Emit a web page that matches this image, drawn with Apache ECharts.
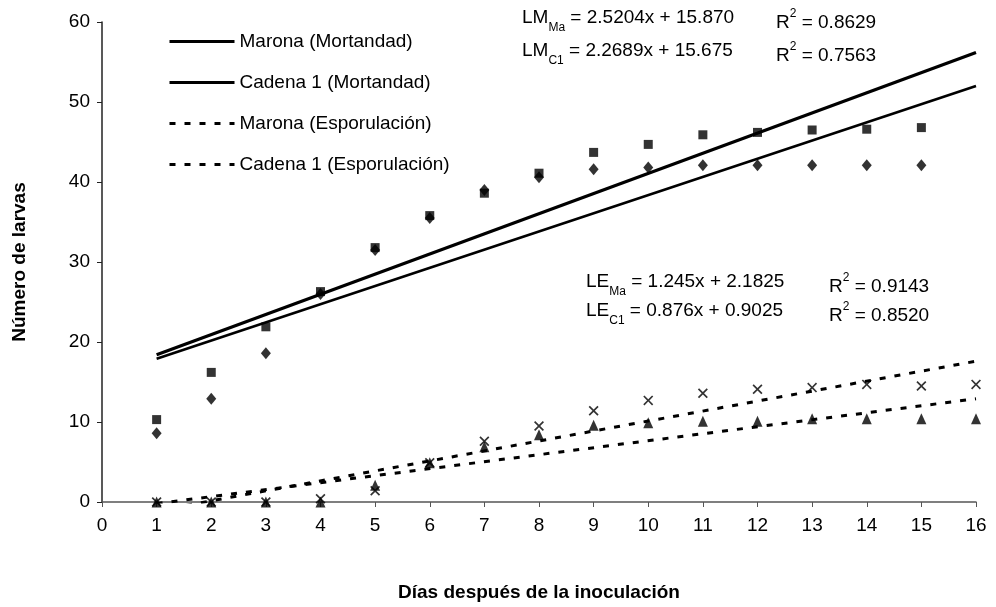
<!DOCTYPE html>
<html>
<head>
<meta charset="utf-8">
<script src="https://cdn.jsdelivr.net/npm/echarts@6/dist/echarts.min.js"></script>
<style>
html,body{margin:0;padding:0;background:#fff;}
#chart{width:996px;height:607px;}
</style>
</head>
<body>
<div id="chart"></div>
<script>
// Days
const daysMort = [1,2,3,4,5,6,7,8,9,10,11,12,13,14,15];
const daysEsp = [1,2,3,4,5,6,7,8,9,10,11,12,13,14,15,16];
// Mortandad (observed)
const maronaMort = [10.3,16.2,21.9,26.3,31.8,35.8,38.6,41.1,43.7,44.7,45.9,46.2,46.5,46.6,46.8];
const cadenaMort = [8.6,12.9,18.6,26.0,31.5,35.5,39.0,40.6,41.6,41.8,42.1,42.1,42.1,42.1,42.1];
// Esporulación (observed)
const maronaEsp = [0,0,0,0.4,1.4,4.9,7.6,9.5,11.4,12.7,13.6,14.1,14.3,14.7,14.5,14.7];
const cadenaEsp = [0,0,0,0,2.1,4.9,6.9,8.4,9.6,9.9,10.1,10.1,10.4,10.4,10.4,10.4];
// Trend line endpoints [x, y]
const trendMaronaMort = [[1,18.4],[16,56.2]];
const trendCadenaMort = [[1,17.9],[16,52.0]];
const trendMaronaEsp = [[1,-1.1],[16,17.6]];
const trendCadenaEsp = [[1,-0.2],[16,12.9]];
// Legend names
const seriesNames = ['Marona (Mortandad)','Cadena 1 (Mortandad)','Marona (Esporulación)','Cadena 1 (Esporulación)'];
// Axis ticks
const xTicks = {min:0, max:16, interval:1};
const yTicks = {min:0, max:60, interval:10};

const FONT = 'Liberation Sans, Arial, sans-serif';
const FS = 19;
const pair = (xs, ys) => xs.map((x,i)=>[x, ys[i]]);
const xPath = 'path://M0,1.2L1.2,0L5,3.8L8.8,0L10,1.2L6.2,5L10,8.8L8.8,10L5,6.2L1.2,10L0,8.8L3.8,5Z';

const chart = echarts.init(document.getElementById('chart'), null, {renderer:'canvas'});

const rich = {
  a:{fontSize:FS, fontFamily:FONT, color:'#000', lineHeight:24, verticalAlign:'middle'},
  s:{fontSize:12, fontFamily:FONT, color:'#000', lineHeight:24, verticalAlign:'bottom', padding:[0,0,-4,0]},
  p:{fontSize:12, fontFamily:FONT, color:'#000', lineHeight:24, verticalAlign:'top', padding:[-3,0,0,0]}
};
function eqText(x, y, text){
  return {type:'text', left:x, top:y, style:{text:text, rich:rich, fill:'#000'}};
}

chart.setOption({
  animation:false,
  backgroundColor:'#fff',
  textStyle:{fontFamily:FONT},
  grid:{left:102, right:20, top:22, bottom:105, containLabel:false},
  legend:{
    data:seriesNames,
    orient:'vertical',
    left:163, top:27,
    itemWidth:65, itemHeight:14, itemGap:22,
    itemStyle:{opacity:0},
    lineStyle:{width:3},
    textStyle:{fontSize:FS, fontFamily:FONT, color:'#000'}
  },
  xAxis:{
    type:'value', min:xTicks.min, max:xTicks.max, interval:xTicks.interval,
    name:'Días después de la inoculación', nameLocation:'middle', nameGap:81,
    nameTextStyle:{fontSize:FS, fontWeight:'bold', fontFamily:FONT, color:'#000'},
    axisLine:{show:true, lineStyle:{color:'#555', width:1.5}},
    axisTick:{show:true, inside:false, length:5, lineStyle:{color:'#555'}},
    axisLabel:{fontSize:FS, fontFamily:FONT, color:'#000', margin:14},
    splitLine:{show:false}
  },
  yAxis:{
    type:'value', min:yTicks.min, max:yTicks.max, interval:yTicks.interval,
    name:'Número de larvas', nameLocation:'middle', nameGap:73, nameRotate:90,
    nameTextStyle:{fontSize:FS, fontWeight:'bold', fontFamily:FONT, color:'#000'},
    axisLine:{show:true, lineStyle:{color:'#222', width:1.5}},
    axisTick:{show:true, inside:false, length:5, lineStyle:{color:'#222'}},
    axisLabel:{fontSize:FS, fontFamily:FONT, color:'#000', margin:12},
    splitLine:{show:false}
  },
  series:[
    {name:seriesNames[0], type:'line', data:trendMaronaMort, symbol:'none', clip:true,
     lineStyle:{color:'#000', width:3.2}, itemStyle:{color:'#000'}, z:3},
    {name:seriesNames[1], type:'line', data:trendCadenaMort, symbol:'none', clip:true,
     lineStyle:{color:'#000', width:2.6}, itemStyle:{color:'#000'}, z:3},
    {name:seriesNames[2], type:'line', data:trendMaronaEsp, symbol:'none', clip:true,
     lineStyle:{color:'#000', width:3, type:[6,9]}, itemStyle:{color:'#000'}, z:3},
    {name:seriesNames[3], type:'line', data:trendCadenaEsp, symbol:'none', clip:true,
     lineStyle:{color:'#000', width:3, type:[6,9]}, itemStyle:{color:'#000'}, z:3},
    {name:'Marona M', type:'scatter', data:pair(daysMort, maronaMort), symbol:'rect', symbolSize:9,
     itemStyle:{color:'#000'}, z:4},
    {name:'Cadena M', type:'scatter', data:pair(daysMort, cadenaMort), symbol:'diamond', symbolSize:[10,12],
     itemStyle:{color:'#000'}, z:4},
    {name:'Marona E', type:'scatter', data:pair(daysEsp, maronaEsp), symbol:xPath, symbolSize:10,
     itemStyle:{color:'#000'}, z:4},
    {name:'Cadena E', type:'scatter', data:pair(daysEsp, cadenaEsp), symbol:'triangle', symbolSize:[10,11],
     itemStyle:{color:'#000'}, z:4}
  ],
  graphic:[
    eqText(522, 8, '{a|LM}{s|Ma}{a| = 2.5204x + 15.870}'),
    eqText(776, 8, '{a|R}{p|2}{a| = 0.8629}'),
    eqText(522, 41, '{a|LM}{s|C1}{a| = 2.2689x + 15.675}'),
    eqText(776, 41, '{a|R}{p|2}{a| = 0.7563}'),
    eqText(586, 272, '{a|LE}{s|Ma}{a| = 1.245x + 2.1825}'),
    eqText(829, 272, '{a|R}{p|2}{a| = 0.9143}'),
    eqText(586, 301, '{a|LE}{s|C1}{a| = 0.876x + 0.9025}'),
    eqText(829, 301, '{a|R}{p|2}{a| = 0.8520}')
  ]
});
</script>
</body>
</html>
